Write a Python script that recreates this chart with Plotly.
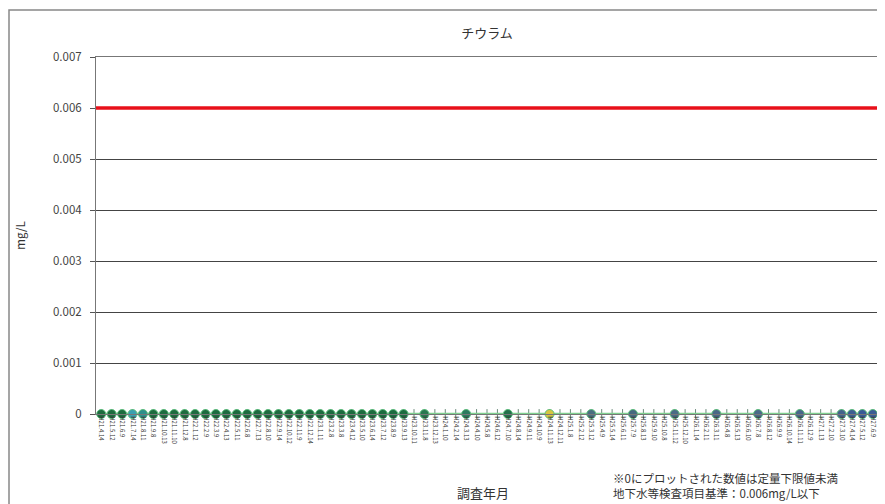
import plotly.graph_objects as go

# ---- data ----
title_text = "チウラム"
x_labels = [
    "H21.4.14", "H21.5.12", "H21.6.9", "H21.7.14", "H21.8.11", "H21.9.8", "H21.10.13", "H21.11.10", "H21.12.8",
    "H22.1.12", "H22.2.9", "H22.3.9", "H22.4.13", "H22.5.11", "H22.6.8", "H22.7.13", "H22.8.10", "H22.9.14",
    "H22.10.12", "H22.11.9", "H22.12.14",
    "H23.1.11", "H23.2.8", "H23.3.8", "H23.4.12", "H23.5.10", "H23.6.14", "H23.7.12", "H23.8.9", "H23.9.13",
    "H23.10.11", "H23.11.8", "H23.12.13",
    "H24.1.10", "H24.2.14", "H24.3.13", "H24.4.10", "H24.5.8", "H24.6.12", "H24.7.10", "H24.8.14", "H24.9.11",
    "H24.10.9", "H24.11.13", "H24.12.11",
    "H25.1.8", "H25.2.12", "H25.3.12", "H25.4.9", "H25.5.14", "H25.6.11", "H25.7.9", "H25.8.13", "H25.9.10",
    "H25.10.8", "H25.11.12", "H25.12.10",
    "H26.1.14", "H26.2.11", "H26.3.11", "H26.4.8", "H26.5.13", "H26.6.10", "H26.7.8", "H26.8.12", "H26.9.9",
    "H26.10.14", "H26.11.11", "H26.12.9",
    "H27.1.13", "H27.2.10", "H27.3.10", "H27.4.14", "H27.5.12", "H27.6.9",
]
measured_dates = [
    "H21.4.14", "H21.5.12", "H21.6.9", "H21.7.14", "H21.8.11", "H21.9.8", "H21.10.13", "H21.11.10", "H21.12.8",
    "H22.1.12", "H22.2.9", "H22.3.9", "H22.4.13", "H22.5.11", "H22.6.8", "H22.7.13", "H22.8.10", "H22.9.14",
    "H22.10.12", "H22.11.9", "H22.12.14",
    "H23.1.11", "H23.2.8", "H23.3.8", "H23.4.12", "H23.5.10", "H23.6.14", "H23.7.12", "H23.8.9", "H23.9.13",
    "H23.11.8", "H24.3.13", "H24.7.10", "H24.11.13", "H25.3.12", "H25.7.9", "H25.11.12",
    "H26.3.11", "H26.7.8", "H26.11.11", "H27.3.10", "H27.4.14", "H27.5.12", "H27.6.9",
]
measured_values = [
    0, 0, 0, 0, 0, 0, 0, 0, 0,
    0, 0, 0, 0, 0, 0, 0, 0, 0,
    0, 0, 0,
    0, 0, 0, 0, 0, 0, 0, 0, 0,
    0, 0, 0, 0, 0, 0, 0,
    0, 0, 0, 0, 0, 0, 0,
]
standard_value = 0.006
y_tick_values = [0, 0.001, 0.002, 0.003, 0.004, 0.005, 0.006, 0.007]
y_tick_labels = ["0", "0.001", "0.002", "0.003", "0.004", "0.005", "0.006", "0.007"]
y_title = "mg/L"
x_title = "調査年月"
note_lines = ["※0にプロットされた数値は定量下限値未満", "地下水等検査項目基準：0.006mg/L以下"]

# ---- styles ----
marker_colors = (
    ["#1d6b3f"] * 3 + ["#3a9fb0", "#2f8f8a"] + ["#1d6b3f"] * 25
    + ["#2a7650", "#2d7a5e", "#23704a", "#d6c640", "#4a6e80", "#46687f", "#4b6a85",
       "#4a6886", "#4a6a88", "#48678a", "#44638c", "#3d5e92", "#3a5a96", "#3b5c94"]
)

font_family = "Noto Sans CJK JP, Noto Sans, sans-serif"

# the page body adds an 8px offset; figure coordinates = reference pixels - 8
OFF = 8
W, H = 885 - OFF, 504 - OFF
PL, PR, PT, PB = 96 - OFF, 878 - OFF, 57 - OFF, 414 - OFF  # plot area in figure px
PW, PH = PR - PL, PB - PT


def px_x(x):
    return (x - OFF - PL) / PW


def px_y(y):
    return (PB - (y - OFF)) / PH


fig = go.Figure()

# crossing tick marks on the zero line (Excel "cross" ticks)
fig.add_trace(go.Scatter(
    x=x_labels, y=[0] * len(x_labels), mode="markers",
    marker=dict(symbol="line-ns", size=7, line=dict(color="#6a8a7a", width=1)),
    hoverinfo="skip", showlegend=False, cliponaxis=False,
))

# measured series
fig.add_trace(go.Scatter(
    x=measured_dates, y=measured_values, mode="lines+markers",
    line=dict(color="#7fd08f", width=2.5),
    marker=dict(symbol="circle", size=9, color=marker_colors,
                line=dict(color="#5fbf7f", width=1)),
    showlegend=False, cliponaxis=False,
))

# standard line
fig.add_hline(y=standard_value, line=dict(color="#e8101a", width=3.5), layer="above")

fig.update_layout(
    width=W, height=H,
    margin=dict(l=PL, r=W - PR, t=PT, b=H - PB),
    paper_bgcolor="white", plot_bgcolor="white",
    font=dict(family=font_family, color="#333"),
    showlegend=False,
    title=dict(text=title_text, x=0.5, xref="paper", y=1 - (33 - OFF) / H, yanchor="middle",
               font=dict(size=13, color="#333")),
)

fig.update_xaxes(
    type="category", categoryorder="array", categoryarray=x_labels,
    range=[-0.5, len(x_labels) - 0.5],
    showgrid=False, showline=True, linecolor="#777", linewidth=1,
    ticks="", tickangle=90, tickfont=dict(size=6, color="#333"),
    mirror=True,
    automargin=False,
)
fig.update_yaxes(
    range=[0, 0.007], tickvals=y_tick_values, ticktext=y_tick_labels,
    showgrid=True, gridcolor="#444", gridwidth=1,
    showline=True, linecolor="#777", linewidth=1, mirror=True,
    ticks="outside", ticklen=5, tickcolor="#555",
    tickfont=dict(size=11.5, color="#444"), ticklabelstandoff=6,
    zeroline=False,
    title=dict(text=y_title, font=dict(size=11.5, color="#333"), standoff=24),
    automargin=False,
)

# x axis title
fig.add_annotation(
    text=x_title, xref="paper", yref="paper", x=px_x(483), y=px_y(492),
    xanchor="center", yanchor="middle", showarrow=False,
    font=dict(size=13, color="#333"),
)

# bottom-right note (two lines in one text block)
fig.add_annotation(
    text="<br>".join(note_lines), xref="paper", yref="paper",
    x=px_x(611), y=px_y(485),
    xanchor="left", yanchor="middle", align="left", showarrow=False,
    font=dict(size=11.5, color="#333"),
)

# outer chart frame
fig.add_shape(
    type="rect", xref="paper", yref="paper",
    x0=px_x(9), x1=px_x(900),
    y0=px_y(530), y1=px_y(10),
    line=dict(color="#888", width=1.5), fillcolor="rgba(0,0,0,0)", layer="below",
)

fig.write_html("out.html")
